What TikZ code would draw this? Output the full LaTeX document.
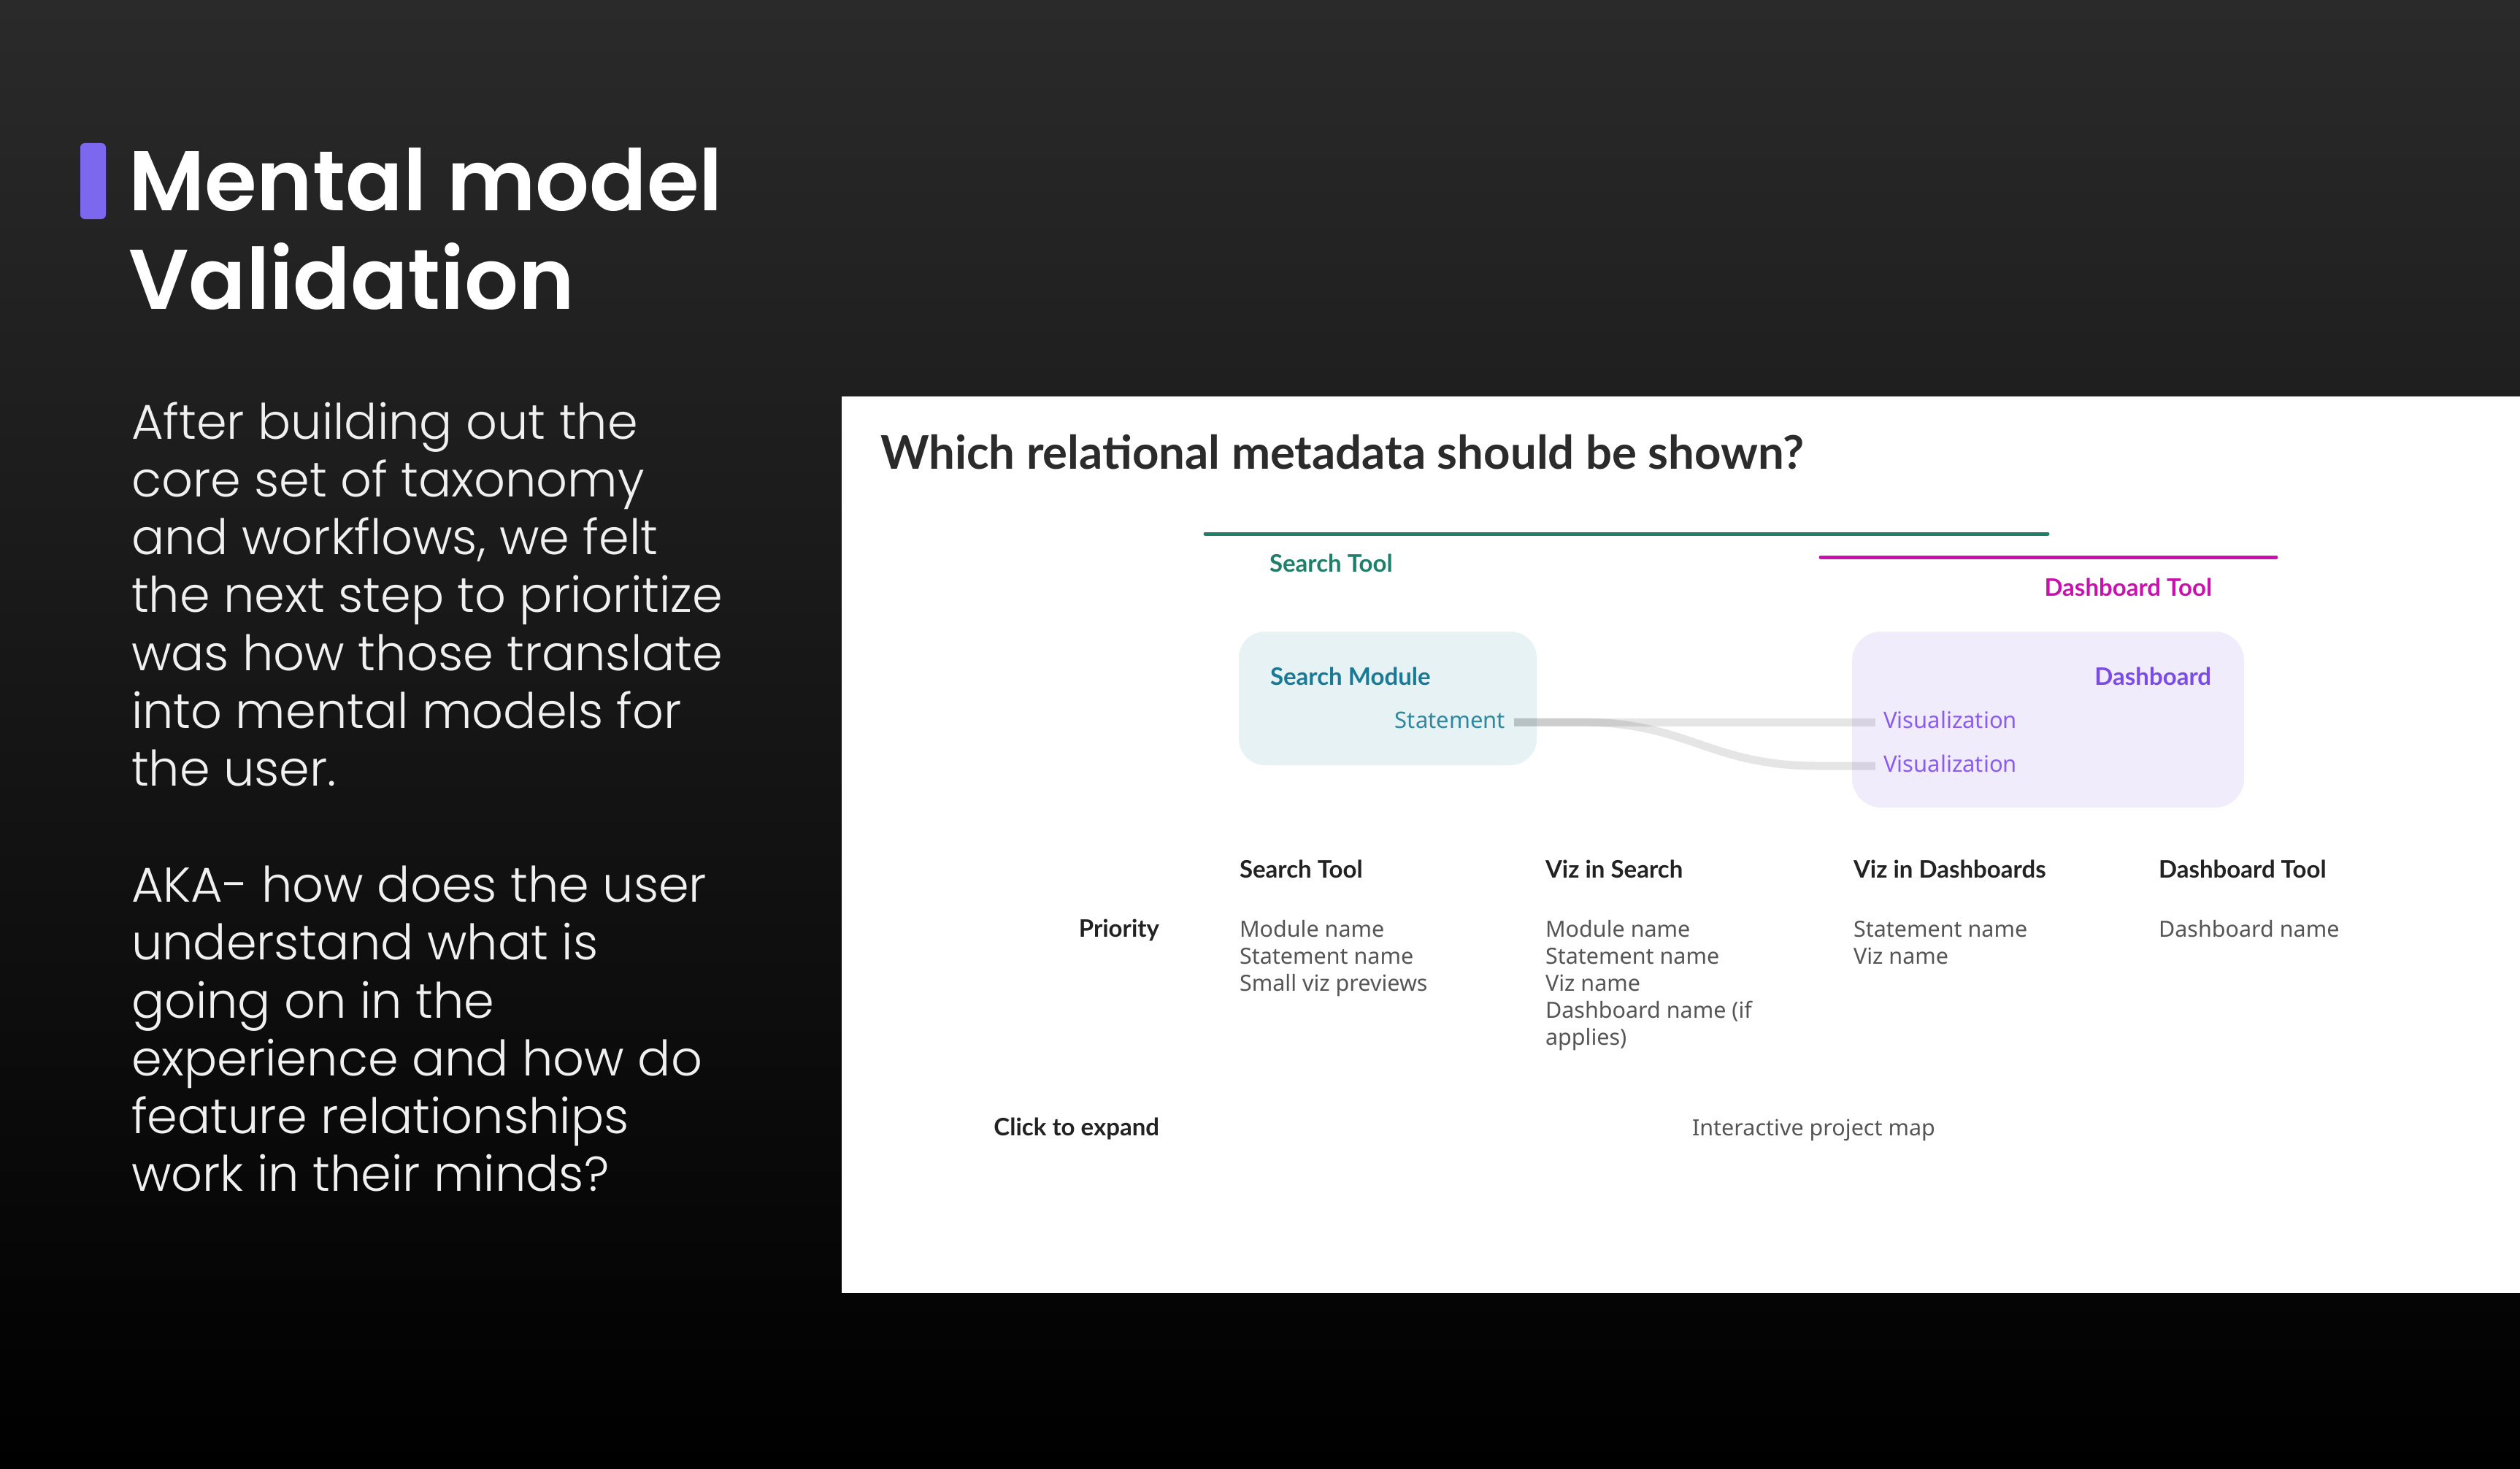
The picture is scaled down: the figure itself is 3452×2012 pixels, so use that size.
\documentclass[tikz,border=0pt]{standalone}
\usepackage{fontspec}
\setmainfont{Noto Sans}
\newfontfamily\latofont{Lato}
\newfontfamily\popsemi{Poppins SemiBold}
\newfontfamily\poplight{Poppins Light}
\definecolor{bgtop}{HTML}{2A2A2A}
\definecolor{accent}{HTML}{7B68EE}
\definecolor{qcol}{HTML}{2B2B2B}
\definecolor{stgreen}{HTML}{1F7F6B}
\definecolor{dbmag}{HTML}{CC10B0}
\definecolor{smtext}{HTML}{187A96}
\definecolor{smfill}{HTML}{E6F2F4}
\definecolor{dbtext}{HTML}{7A4BE6}
\definecolor{vizcol}{HTML}{8A5CF0}
\definecolor{dbfill}{HTML}{F0ECFC}
\definecolor{hdr}{HTML}{222222}
\definecolor{itm}{HTML}{555555}
\tikzset{
  lbl/.style={inner sep=0pt, outer sep=0pt},
  titletxt/.style={lbl, anchor=base west, text=white, font=\popsemi\fontsize{116}{135}\selectfont},
  bodytxt/.style={lbl, anchor=base west, text=white!94!black, font=\poplight\fontsize{67}{79}\selectfont},
  qtxt/.style={lbl, anchor=base west, text=qcol, font=\latofont\bfseries\fontsize{63.5}{70}\selectfont},
  boldsm/.style={font=\latofont\bfseries\fontsize{33}{37}\selectfont},
  hdrtxt/.style={lbl, anchor=base west, text=hdr, boldsm},
  itmtxt/.style={lbl, anchor=base west, text=itm, font=\fontsize{30.5}{37}\selectfont},
  link/.style={line width=11pt, draw=black, draw opacity=0.1},
}
\begin{document}
\begin{tikzpicture}[x=1pt,y=-1pt]
\shade[top color=bgtop,bottom color=black] (0,0) rectangle (3452,2012);
\useasboundingbox (0,0) rectangle (3452,2012);
% accent bar
\fill[accent, rounded corners=6pt] (110,196) rectangle (145,300);
% title
\node[titletxt] (t1) at (176,288) {Mental model};
\node[titletxt] (t2) at (176,423) {Validation};
% body
\foreach \txt [count=\i] in {After building out the, core set of taxonomy, {and workflows, we felt}, the next step to prioritize, was how those translate, into mental models for, the user.}
  \node[bodytxt] (p\i) at (180,{601+79.3*(\i-1)}) {\txt};
\foreach \txt [count=\i] in {AKA- how does the user, understand what is, going on in the, experience and how do, feature relationships, work in their minds?}
  \node[bodytxt] (q\i) at (180,{1235.4+79.3*(\i-1)}) {\txt};
% white panel
\fill[white] (1153,543) rectangle (3452,1771);
\node[qtxt] (ques) at (1206,642) {Which relational metadata should be shown?};
% tool lines
\coordinate (g1) at (1651,731); \coordinate (g2) at (2805,731);
\coordinate (m1) at (2494,763); \coordinate (m2) at (3118,763);
\draw[stgreen, line width=5pt, line cap=round] (g1) -- (g2);
\draw[dbmag, line width=5pt, line cap=round] (m1) -- (m2);
\node[lbl, anchor=base west, text=stgreen, boldsm] (stl) at (1739,783) {Search Tool};
\node[lbl, anchor=base east, text=dbmag, boldsm] (dtl) at (3030,816) {Dashboard Tool};
% boxes
\fill[smfill, rounded corners=36pt] (1697,865) rectangle (2105,1048);
\fill[dbfill, rounded corners=40pt] (2537,865) rectangle (3074,1106);
\node[lbl, anchor=base west, text=smtext, boldsm] (sm) at (1740,938) {Search Module};
\node[lbl, anchor=base east, text=smtext!90!white, font=\fontsize{31}{37}\selectfont] (stmt) at (2062,997) {Statement};
\node[lbl, anchor=base east, text=dbtext, boldsm] (db) at (3029,938) {Dashboard};
\node[lbl, anchor=base west, text=vizcol, font=\fontsize{31}{37}\selectfont] (v1) at (2580,997) {Visualization};
\node[lbl, anchor=base west, text=vizcol, font=\fontsize{31}{37}\selectfont] (v2) at (2580,1057) {Visualization};
% connectors
\draw[link] ([xshift=12pt,yshift=8pt]stmt.base east) -- ([xshift=-11pt,yshift=8pt]v1.base west);
\draw[link] ([xshift=12pt,yshift=8pt]stmt.base east) -- ++(90,0)
  .. controls +(150,0) and +(-150,0) .. ([xshift=-90pt,yshift=8pt]v2.base west)
  -- ([xshift=-11pt,yshift=8pt]v2.base west);
% table
\node[hdrtxt] (h1) at (1698,1202) {Search Tool};
\node[hdrtxt] (h2) at (2117,1202) {Viz in Search};
\node[hdrtxt] (h3) at (2539,1202) {Viz in Dashboards};
\node[hdrtxt] (h4) at (2957,1202) {Dashboard Tool};
\node[hdrtxt, anchor=base east] (pri) at (1588,1283) {Priority};
\foreach \txt [count=\i] in {Module name, Statement name, Small viz previews}
  \node[itmtxt] (a\i) at (1698,{1283+37*(\i-1)}) {\txt};
\foreach \txt [count=\i] in {Module name, Statement name, Viz name, Dashboard name (if, applies)}
  \node[itmtxt] (b\i) at (2117,{1283+37*(\i-1)}) {\txt};
\foreach \txt [count=\i] in {Statement name, Viz name}
  \node[itmtxt] (c\i) at (2539,{1283+37*(\i-1)}) {\txt};
\node[itmtxt] (d1) at (2957,1283) {Dashboard name};
\node[hdrtxt, anchor=base east] (cte) at (1588,1555) {Click to expand};
\node[itmtxt] (ipm) at (2318,1555) {Interactive project map};
\end{tikzpicture}
\end{document}
